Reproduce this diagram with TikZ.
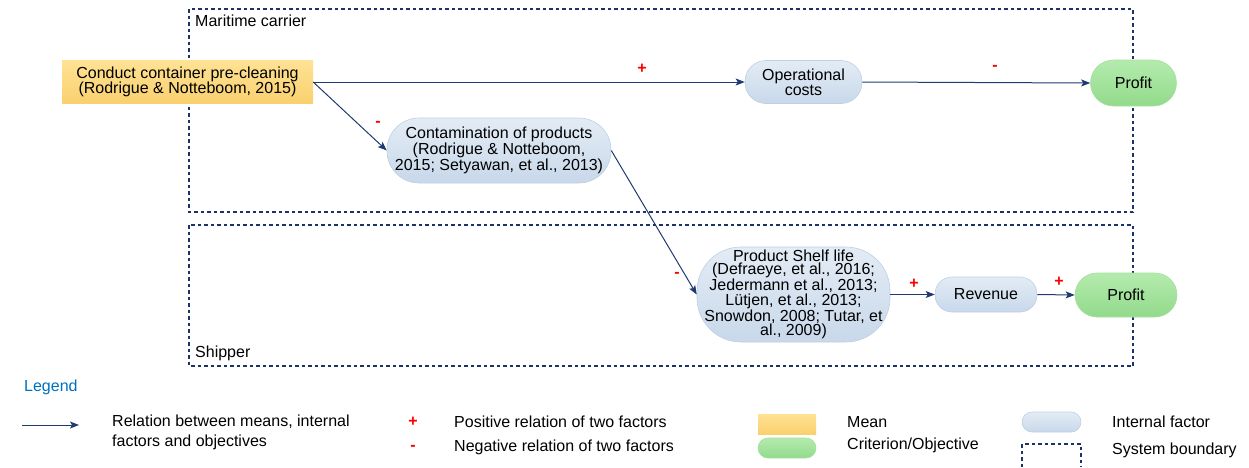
\documentclass[tikz,border=0pt]{standalone}
\usepackage{fontspec}
\setmainfont{Liberation Sans}
\usetikzlibrary{arrows.meta}
\definecolor{navy}{HTML}{1B3366}
\definecolor{arrowc}{HTML}{1F3A70}
\definecolor{meanTop}{HTML}{FFE294}
\definecolor{meanBot}{HTML}{F9D06E}
\definecolor{facTop}{HTML}{E3ECF5}
\definecolor{facBot}{HTML}{C8D8EA}
\definecolor{facBorder}{HTML}{BCD0E4}
\definecolor{objTop}{HTML}{B4EBAE}
\definecolor{objBot}{HTML}{92DA8B}
\definecolor{objBorder}{HTML}{A4E09E}
\definecolor{legblue}{HTML}{0070C0}
\begin{document}
\begin{tikzpicture}[x=1pt,y=-1pt,
  font=\fontsize{16}{13.5}\selectfont,
  meanbox/.style={top color=meanTop, bottom color=meanBot, draw=none, inner sep=0pt, align=center,
    font=\fontsize{16}{15}\selectfont},
  factor/.style={top color=facTop, bottom color=facBot, draw=facBorder, line width=0.6pt, inner sep=0pt, align=center},
  objective/.style={top color=objTop, bottom color=objBot, draw=objBorder, line width=0.6pt, inner sep=0pt, align=center},
  rel/.style={draw=arrowc, line width=1pt, -{Stealth[length=9pt,width=7pt,inset=2pt]}},
  sign/.style={text=red, font=\fontsize{16}{16}\selectfont\bfseries, inner sep=0pt},
  boundary/.style={draw=navy, line width=2.3pt, dash pattern=on 3.5pt off 3pt},
  lbl/.style={anchor=west, inner sep=0pt}
]
\useasboundingbox (0,0) rectangle (1249,467);

% system boundaries
\draw[boundary] (189,9) rectangle (1133,212);
\draw[boundary] (189,225) rectangle (1133,366);
\node[lbl] (carrier) at (195,21) {Maritime carrier};
\node[lbl] (shipper) at (195,353) {Shipper};

% nodes
\node[meanbox, minimum width=251pt, minimum height=43pt] (mean) at (187.5,82) {Conduct container pre-cleaning\\(Rodrigue \& Notteboom, 2015)};
\node[factor, rounded corners=21pt, minimum width=117pt, minimum height=43pt] (opc) at (803.5,82) {Operational\\costs};
\node[objective, rounded corners=23pt, minimum width=86pt, minimum height=46pt] (profit1) at (1133.5,83) {Profit};
\node[factor, rounded corners=32pt, minimum width=224pt, minimum height=65pt] (contam) at (499,150.5) {Contamination of products\\(Rodrigue \& Notteboom,\\2015; Setyawan, et al., 2013)};
\node[factor, rounded corners=44pt, minimum width=193pt, minimum height=95pt] (shelf) at (793.5,294.5) {Product Shelf life\\(Defraeye, et al., 2016;\\Jedermann et al., 2013;\\Lütjen, et al., 2013;\\Snowdon, 2008; Tutar, et\\al., 2009)};
\node[factor, rounded corners=17pt, minimum width=102pt, minimum height=35pt] (revenue) at (986,294.5) {Revenue};
\node[objective, rounded corners=22pt, minimum width=102pt, minimum height=44pt] (profit2) at (1126,295) {Profit};

% connectors
\draw[rel] (mean.east) -- (opc.west);
\draw[rel] (opc.east) -- (profit1.west);
\draw[rel] (mean.east) -- (contam.west);
\draw[rel] (contam.east) -- (shelf.west);
\draw[rel] (shelf.east) -- (revenue.west);
\draw[rel] (revenue.east) -- (profit2.west);

% signs
\node[sign] (s1) at (642,69) {+};
\node[sign] (s2) at (995,68) {-};
\node[sign] (s3) at (378,124) {-};
\node[sign] (s4) at (677,275) {-};
\node[sign] (s5) at (914,284) {+};
\node[sign] (s6) at (1059,282) {+};

% legend
\node[lbl, text=legblue] (legend) at (24,387) {Legend};
\coordinate (la1) at (22,425);
\coordinate (la2) at (79,425);
\draw[rel] (la1) -- (la2);
\node[lbl, align=left, font=\fontsize{16}{20}\selectfont] (lrel) at (112,432) {Relation between means, internal\\factors and objectives};
\node[sign] (lplus) at (413,422) {+};
\node[sign] (lminus) at (413,448) {-};
\node[lbl] (lpos) at (454,422) {Positive relation of two factors};
\node[lbl] (lneg) at (454,447) {Negative relation of two factors};

\node[meanbox, minimum width=58pt, minimum height=20pt] (smean) at (787,424) {};
\node[objective, rounded corners=10pt, minimum width=58pt, minimum height=20pt] (sobj) at (787,448) {};
\node[lbl] (lmean) at (847,422) {Mean};
\node[lbl] (lobj) at (847,445) {Criterion/Objective};

\node[factor, rounded corners=10pt, minimum width=59pt, minimum height=20pt] (sfac) at (1051.5,422) {};
\draw[boundary] (1022,467) -- (1022,444) -- (1081,444) -- (1081,467);
\node[lbl] (lfac) at (1112,422) {Internal factor};
\node[lbl] (lbound) at (1112,450) {System boundary};
\end{tikzpicture}
\end{document}
